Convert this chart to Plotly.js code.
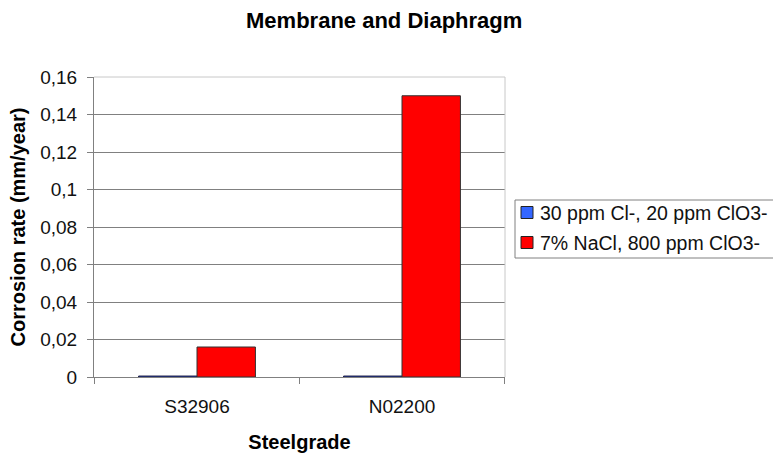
<!DOCTYPE html>
<html>
<head>
<meta charset="utf-8">
<script src="https://cdn.plot.ly/plotly-3.0.1.min.js"></script>
<style>
  html, body { margin: 0; padding: 0; background: #fff; }
  #chart { width: 773px; height: 455px; }
</style>
</head>
<body>
<div id="chart"></div>
<script>
// Steel grades tested
const grades = ['S32906', 'N02200'];

// Corrosion rate (mm/year) per environment
const lowChlorideLabel = '30 ppm Cl-, 20 ppm ClO3-';
const lowChloride = [0.0005, 0.0005];

const brineLabel = '7% NaCl, 800 ppm ClO3-';
const brine = [0.016, 0.15];

const yTicks = [0, 0.02, 0.04, 0.06, 0.08, 0.1, 0.12, 0.14, 0.16];

const font = 'Liberation Sans, Arial, sans-serif';
const colors = ['#3366ff', '#ff0000'];

const series = [
  { name: lowChlorideLabel, y: lowChloride, color: colors[0], edge: '#1a1a40' },
  { name: brineLabel, y: brine, color: colors[1], edge: '#333333' }
];

const traces = series.map(s => ({
  type: 'bar', name: s.name, x: grades, y: s.y,
  marker: { color: s.color, line: { color: s.edge, width: 1 } }
}));

// Plot area geometry in pixels, used to place the boxed legend beside it
const W = 773, H = 455;
const M = { l: 94, r: 268, t: 77, b: 78 };
const pw = W - M.l - M.r, ph = H - M.t - M.b;
const px = v => (v - M.l) / pw;        // pixel x -> paper x
const py = v => (H - M.b - v) / ph;    // pixel y -> paper y

// light frame on the top and right of the plot area
const frame = [
  { type: 'line', xref: 'paper', yref: 'paper', x0: 0, x1: 1, y0: 1, y1: 1,
    line: { color: '#c8c8c8', width: 1 } },
  { type: 'line', xref: 'paper', yref: 'paper', x0: 1, x1: 1, y0: 0, y1: 1,
    line: { color: '#c8c8c8', width: 1 } }
];

const legendShapes = [
  { type: 'rect', xref: 'paper', yref: 'paper',
    x0: px(515), x1: px(800), y0: py(258), y1: py(200),
    line: { color: '#808080', width: 1 }, fillcolor: 'rgba(0,0,0,0)' }
];
const legendNotes = [];
series.forEach((s, i) => {
  const cy = 212.5 + i * 30;
  legendShapes.push({
    type: 'rect', xref: 'paper', yref: 'paper',
    x0: px(521), x1: px(533), y0: py(cy + 6), y1: py(cy - 6),
    line: { color: '#222222', width: 1 }, fillcolor: s.color
  });
  legendNotes.push({
    xref: 'paper', yref: 'paper', x: px(538), y: py(cy),
    xanchor: 'left', yanchor: 'middle', showarrow: false,
    text: s.name, font: { family: font, size: 19.5, color: '#111' }
  });
});

// category divider ticks along the x axis
const dividerTicks = [0, 1, 2].map(i => ({
  type: 'line', xref: 'x', yref: 'paper',
  x0: i - 0.5, x1: i - 0.5, y0: 0, y1: py(H - M.b + 7),
  line: { color: '#808080', width: 1 }
}));

const layout = {
  width: W, height: H,
  separators: ', ',
  showlegend: false,
  paper_bgcolor: '#ffffff', plot_bgcolor: '#ffffff',
  font: { family: font, size: 19, color: '#111111' },
  margin: M,
  barmode: 'group', bargap: 0.43, bargroupgap: 0,
  title: {
    text: '<b>Membrane and Diaphragm</b>',
    font: { family: font, size: 22, color: '#000' },
    x: 0.497, xref: 'container', xanchor: 'center',
    y: 1 - 20 / H, yref: 'container', yanchor: 'middle'
  },
  xaxis: {
    title: { text: '<b>Steelgrade</b>', font: { size: 20, color: '#000' }, standoff: 19 },
    showline: true, linecolor: '#808080', linewidth: 1,
    ticks: '', tickfont: { size: 19, color: '#111' },
    ticklabelstandoff: 12,
    showgrid: false
  },
  yaxis: {
    title: { text: '<b>Corrosion rate (mm/year)</b>', font: { size: 20, color: '#000' }, standoff: 9 },
    range: [0, 0.16], tickvals: yTicks,
    showline: true, linecolor: '#808080', linewidth: 1,
    ticks: 'outside', ticklen: 6, tickcolor: '#808080',
    tickfont: { size: 19, color: '#111' },
    ticklabelstandoff: 6,
    showgrid: true, gridcolor: '#808080', gridwidth: 1,
    zeroline: false
  },
  shapes: [...frame, ...dividerTicks, ...legendShapes],
  annotations: legendNotes
};

Plotly.newPlot('chart', traces, layout, { displayModeBar: false, staticPlot: true });
</script>
</body>
</html>
